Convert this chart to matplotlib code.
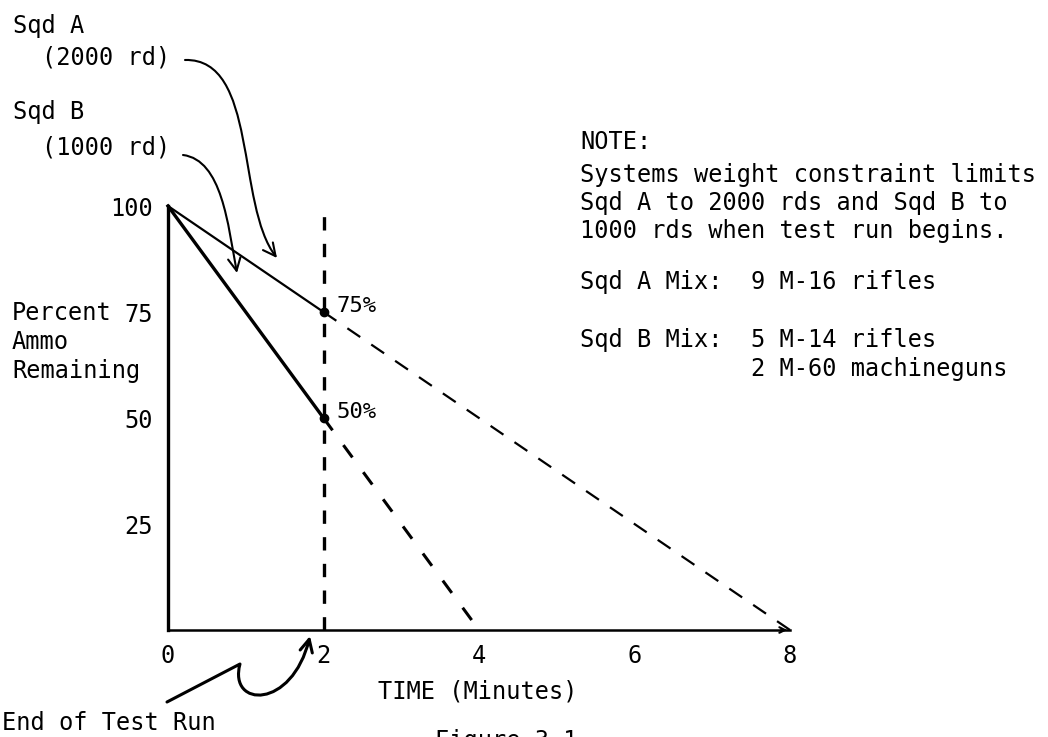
import matplotlib
matplotlib.use('Agg')

import matplotlib.pyplot as plt
from matplotlib.patches import FancyArrowPatch
from matplotlib.path import Path

W, H = 1048, 737

# data
minutes_a = [0, 2]
ammo_a = [100, 75]
minutes_b = [0, 2]
ammo_b = [100, 50]
proj_minutes_a = [2, 8]
proj_ammo_a = [75, 0]
proj_minutes_b = [2, 4]
proj_ammo_b = [50, 0]
end_of_run = 2
point_labels = ['75%', '50%']
x_ticks = [0, 2, 4, 6, 8]
y_ticks = [25, 50, 75, 100]

ylabel_lines = ['Percent', 'Ammo', 'Remaining']
note_lines = ['NOTE:',
              'Systems weight constraint limits',
              'Sqd A to 2000 rds and Sqd B to',
              '1000 rds when test run begins.']
mix_lines = ['Sqd A Mix:  9 M-16 rifles',
             'Sqd B Mix:  5 M-14 rifles',
             '            2 M-60 machineguns']

plt.rcParams['font.family'] = ['DejaVu Sans Mono', 'DejaVu Sans']
FS = 17


def fp(x, y):
    # image pixel (from top-left) -> figure fraction
    return (x / W, 1 - y / H)


fig = plt.figure(figsize=(W / 100, H / 100), dpi=100)
ax = fig.add_axes([168 / W, (H - 630) / H, 622 / W, 424 / H])
ax.set_xlim(0, 8)
ax.set_ylim(0, 100)

for s in ['top', 'right']:
    ax.spines[s].set_visible(False)
ax.spines['left'].set_linewidth(2.4)
ax.spines['bottom'].set_linewidth(1.8)
ax.tick_params(length=0, labelsize=FS)
ax.tick_params(axis='y', pad=11)
ax.tick_params(axis='x', pad=10)
ax.set_xticks(x_ticks)
ax.set_xticklabels([str(t) for t in x_ticks])
ax.set_yticks(y_ticks)
ax.set_yticklabels([str(t) for t in y_ticks])

# measured consumption
ax.plot(minutes_a, ammo_a, color='black', lw=1.6, clip_on=False)
ax.plot(minutes_b, ammo_b, color='black', lw=2.4, clip_on=False)

# projections
ax.plot(proj_minutes_a, proj_ammo_a, color='black', lw=1.6,
        ls=(0, (7, 6)), clip_on=False)
ax.plot(proj_minutes_b, proj_ammo_b, color='black', lw=2.2,
        ls=(0, (5, 6)), clip_on=False)

# end of test run marker
ax.axvline(end_of_run, ymax=0.98, color='black', lw=2.4, ls=(0, (4, 4)))

ends = [ammo_a[-1], ammo_b[-1]]
ax.plot([end_of_run] * 2, ends, 'o', color='black', ms=6, clip_on=False)
for v, lab in zip(ends, point_labels):
    ax.annotate(lab, (end_of_run, v), xytext=(9, 4), textcoords='offset points',
                va='center', ha='left', fontsize=FS - 1)

# small arrow tip on time axis
ax.annotate('', xy=(8, 0), xytext=(7.85, 0),
            arrowprops=dict(arrowstyle='->', lw=1.5, color='black'),
            annotation_clip=False)

# text around the chart
fig.text(*fp(13, 26), 'Sqd A', fontsize=FS, va='center')
fig.text(*fp(42, 58), '(2000 rd)', fontsize=FS, va='center')
fig.text(*fp(13, 112), 'Sqd B', fontsize=FS, va='center')
fig.text(*fp(42, 147), '(1000 rd)', fontsize=FS, va='center')

for y, line in zip([313, 342, 371], ylabel_lines):
    fig.text(*fp(12, y), line, fontsize=FS, va='center')

for y, line in zip([142, 175, 203, 231], note_lines):
    fig.text(*fp(580, y), line, fontsize=FS, va='center')
for y, line in zip([282, 340, 369], mix_lines):
    fig.text(*fp(580, y), line, fontsize=FS, va='center')

fig.text(*fp(378, 691), 'TIME (Minutes)', fontsize=FS, va='center')
fig.text(*fp(2, 723), 'End of Test Run', fontsize=FS, va='center')
# caption is cut by the page edge in the scan
fig.text(*fp(435, 729), 'Figure 3-1', fontsize=FS, va='top')


def hand_arrow(verts, codes, lw):
    p = Path([fp(x, y) for x, y in verts], codes)
    arr = FancyArrowPatch(path=p, transform=fig.transFigure,
                          arrowstyle='->,head_length=0.5,head_width=0.25',
                          mutation_scale=18, lw=lw, color='black')
    fig.add_artist(arr)


C4 = Path.CURVE4
hand_arrow([(185, 60), (258, 58), (236, 205), (277, 258)],
           [Path.MOVETO, C4, C4, C4], 1.5)
hand_arrow([(183, 155), (222, 160), (228, 225), (237, 273)],
           [Path.MOVETO, C4, C4, C4], 1.5)
hand_arrow([(167, 702), (240, 664), (228, 708), (292, 710), (310, 636)],
           [Path.MOVETO, Path.LINETO, C4, C4, C4], 2.2)

plt.savefig('out.png', dpi=100)
